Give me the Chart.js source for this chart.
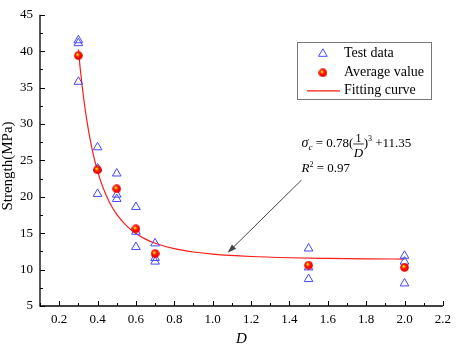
<!DOCTYPE html>
<html>
<head>
<meta charset="utf-8">
<script src="https://cdn.jsdelivr.net/npm/chart.js@4.4.1/dist/chart.umd.min.js"></script>
<style>
  html, body { margin: 0; padding: 0; background: #fff; }
</style>
</head>
<body>
<canvas id="chart" width="457" height="346"></canvas>
<script>
// test data (triangles)
const testX = [0.3, 0.3, 0.3, 0.4, 0.4, 0.4, 0.5, 0.5, 0.5, 0.6, 0.6, 0.6, 0.7, 0.7, 0.7, 1.5, 1.5, 1.5, 2.0, 2.0, 2.0];
const testY = [41.5, 41.1, 35.8, 26.8, 23.9, 20.4, 23.2, 20.3, 19.7, 18.6, 15.2, 13.1, 13.6, 11.6, 11.1, 12.9, 10.3, 8.7, 11.9, 11.1, 8.1];

// average values (red spheres)
const avgX = [0.3, 0.4, 0.5, 0.6, 0.7, 1.5, 2.0];
const avgY = [39.4, 23.7, 21.1, 15.6, 12.2, 10.6, 10.3];

// fitting curve, values
const fitX = [0.30, 0.31, 0.32, 0.33, 0.34, 0.35, 0.36, 0.38, 0.40, 0.42, 0.44, 0.46, 0.48, 0.50, 0.55, 0.60, 0.65, 0.70, 0.80, 0.90, 1.00, 1.20, 1.40, 1.60, 1.80, 2.00];
const fitY = [40.24, 37.53, 35.15, 33.05, 31.20, 29.54, 28.07, 25.56, 23.54, 21.88, 20.51, 19.36, 18.40, 17.59, 16.04, 14.96, 14.19, 13.62, 12.87, 12.42, 12.13, 11.80, 11.63, 11.54, 11.48, 11.45];

// labelled ticks
const xTickLabels = [0.2, 0.4, 0.6, 0.8, 1.0, 1.2, 1.4, 1.6, 1.8, 2.0, 2.2];
const yTickLabels = [5, 10, 15, 20, 25, 30, 35, 40, 45];

const serif = '"Liberation Serif", "Times New Roman", serif';

function isLabelled(v, list) {
    return list.some(l => Math.abs(l - v) < 1e-6);
}

// little shaded ball for the average markers
function makeBall(d) {
    const c = document.createElement('canvas');
    c.width = d; c.height = d;
    const g = c.getContext('2d');
    const r = d / 2;
    const grad = g.createRadialGradient(r - 1.2, r - 1.4, 0, r, r, r);
    grad.addColorStop(0, '#ffff50');
    grad.addColorStop(0.22, '#ffb000');
    grad.addColorStop(0.45, '#ff1800');
    grad.addColorStop(0.85, '#f00000');
    grad.addColorStop(1, '#c00000');
    g.fillStyle = grad;
    g.beginPath();
    g.arc(r, r, r - 0.2, 0, Math.PI * 2);
    g.fill();
    return c;
}
const ball = makeBall(9);

const axesPlugin = {
    id: 'axesPlugin',
    beforeDatasetsDraw(chart) {
        const { ctx, chartArea: a, scales: { x, y } } = chart;
        ctx.save();
        ctx.strokeStyle = '#000';
        ctx.lineWidth = 1.3;
        ctx.beginPath();
        ctx.moveTo(a.left, a.top);
        ctx.lineTo(a.left, a.bottom);
        ctx.lineTo(a.right, a.bottom);
        ctx.stroke();
        ctx.lineWidth = 1;
        ctx.beginPath();
        x.ticks.forEach(t => {
            const px = Math.round(x.getPixelForValue(t.value)) + 0.5;
            const len = isLabelled(t.value, xTickLabels) ? 5 : 3;
            ctx.moveTo(px, a.bottom);
            ctx.lineTo(px, a.bottom - len);
        });
        y.ticks.forEach(t => {
            const py = Math.round(y.getPixelForValue(t.value)) + 0.5;
            const len = isLabelled(t.value, yTickLabels) ? 5 : 3;
            ctx.moveTo(a.left, py);
            ctx.lineTo(a.left + len, py);
        });
        ctx.stroke();

        // axis titles
        ctx.fillStyle = '#000';
        ctx.font = 'italic 15px ' + serif;
        ctx.textAlign = 'center';
        ctx.textBaseline = 'middle';
        ctx.fillText('D', (a.left + a.right) / 2, 339);
        ctx.translate(8, 166);
        ctx.rotate(-Math.PI / 2);
        ctx.font = '15px ' + serif;
        ctx.fillText('Strength(MPa)', 0, 0);
        ctx.restore();
    },
    afterDatasetsDraw(chart) {
        const { ctx, chartArea: a, scales: { x, y } } = chart;
        ctx.save();

        // arrow pointing at the curve
        const x0 = x.getPixelForValue(1.463), y0 = y.getPixelForValue(22.3);
        const x1 = x.getPixelForValue(1.078), y1 = y.getPixelForValue(12.3);
        const ang = Math.atan2(y1 - y0, x1 - x0);
        ctx.strokeStyle = '#444';
        ctx.fillStyle = '#444';
        ctx.lineWidth = 1;
        ctx.beginPath();
        ctx.moveTo(x0, y0);
        ctx.lineTo(x1 - Math.cos(ang) * 6, y1 - Math.sin(ang) * 6);
        ctx.stroke();
        ctx.beginPath();
        ctx.moveTo(x1, y1);
        ctx.lineTo(x1 - Math.cos(ang) * 9 + Math.sin(ang) * 3, y1 - Math.sin(ang) * 9 - Math.cos(ang) * 3);
        ctx.lineTo(x1 - Math.cos(ang) * 9 - Math.sin(ang) * 3, y1 - Math.sin(ang) * 9 + Math.cos(ang) * 3);
        ctx.closePath();
        ctx.fill();

        // equation text
        ctx.fillStyle = '#000';
        ctx.textBaseline = 'alphabetic';
        ctx.textAlign = 'left';
        let cx = x.getPixelForValue(1.463);
        let yb = y.getPixelForValue(26.83);
        const put = (txt, font, dy) => {
            ctx.font = font;
            ctx.fillText(txt, cx, yb + (dy || 0));
            cx += ctx.measureText(txt).width;
        };
        put('\u03C3', 'italic 14px ' + serif);
        put('c', 'italic 9px ' + serif, 3);
        put(' = 0.78(', '13px ' + serif);
        ctx.font = 'italic 13px ' + serif;
        const wD = ctx.measureText('D').width + 1;
        ctx.textAlign = 'center';
        ctx.font = '12px ' + serif;
        ctx.fillText('1', cx + wD / 2, yb - 5);
        ctx.fillRect(cx, yb - 3.5, wD, 0.8);
        ctx.font = 'italic 13px ' + serif;
        ctx.fillText('D', cx + wD / 2, yb + 9.5);
        ctx.textAlign = 'left';
        cx += wD;
        put(')', '13px ' + serif);
        put('3', '8px ' + serif, -6);
        put(' +11.35', '13px ' + serif);

        cx = x.getPixelForValue(1.463);
        yb = y.getPixelForValue(23.35);
        put('R', 'italic 13px ' + serif);
        put('2', '8px ' + serif, -5);
        put(' = 0.97', '13px ' + serif);

        // legend box
        const lx = a.right - 146, ly = a.top + 27;
        ctx.strokeStyle = '#777';
        ctx.lineWidth = 1;
        ctx.strokeRect(Math.round(lx) + 0.5, Math.round(ly) + 0.5, 134, 57);
        const symX = lx + 26, textX = lx + 47;
        const rows = [ly + 12, ly + 31, ly + 49];
        ctx.strokeStyle = 'rgb(70,70,255)';
        ctx.beginPath();
        ctx.moveTo(symX, rows[0] - 5);
        ctx.lineTo(symX + 4.3, rows[0] + 2.5);
        ctx.lineTo(symX - 4.3, rows[0] + 2.5);
        ctx.closePath();
        ctx.stroke();
        ctx.drawImage(ball, symX - 4.5, rows[1] - 4.5);
        ctx.strokeStyle = '#ff1a1a';
        ctx.lineWidth = 1.2;
        ctx.beginPath();
        ctx.moveTo(lx + 10, rows[2]);
        ctx.lineTo(lx + 43, rows[2]);
        ctx.stroke();
        ctx.fillStyle = '#000';
        ctx.font = '14px ' + serif;
        ctx.textBaseline = 'middle';
        ctx.fillText('Test data', textX, rows[0]);
        ctx.fillText('Average value', textX, rows[1]);
        ctx.fillText('Fitting curve', textX, rows[2]);
        ctx.restore();
    }
};

new Chart(document.getElementById('chart'), {
    type: 'scatter',
    data: {
        datasets: [
            {
                label: 'Average value',
                data: avgX.map((v, i) => ({ x: v, y: avgY[i] })),
                pointStyle: ball,
                order: 0
            },
            {
                label: 'Test data',
                data: testX.map((v, i) => ({ x: v, y: testY[i] })),
                pointStyle: 'triangle',
                pointRadius: 5,
                borderColor: 'rgb(70,70,255)',
                backgroundColor: 'rgba(0,0,0,0)',
                borderWidth: 1,
                order: 1
            },
            {
                label: 'Fitting curve',
                type: 'line',
                data: fitX.map((v, i) => ({ x: v, y: fitY[i] })),
                borderColor: '#ff1a1a',
                borderWidth: 1.2,
                pointRadius: 0,
                cubicInterpolationMode: 'monotone',
                fill: false,
                order: 2
            }
        ]
    },
    options: {
        responsive: false,
        animation: false,
        events: [],
        clip: false,
        layout: { padding: { top: 5, right: 7, left: 0, bottom: 0 } },
        plugins: { legend: { display: false }, tooltip: { enabled: false } },
        scales: {
            x: {
                type: 'linear',
                min: 0.1,
                max: 2.2,
                grid: { display: false, drawTicks: false },
                border: { display: false },
                ticks: {
                    stepSize: 0.1,
                    autoSkip: false,
                    maxRotation: 0,
                    padding: 6,
                    color: '#000',
                    font: { family: serif, size: 13 },
                    callback: v => isLabelled(v, xTickLabels) ? v.toFixed(1) : ''
                },
                afterFit: s => { s.height = 40; }
            },
            y: {
                type: 'linear',
                min: 5,
                max: 45,
                grid: { display: false, drawTicks: false },
                border: { display: false },
                ticks: {
                    stepSize: 2.5,
                    autoSkip: false,
                    padding: 7,
                    color: '#000',
                    font: { family: serif, size: 13 },
                    callback: v => isLabelled(v, yTickLabels) ? String(v) : ''
                },
                afterFit: s => { s.width = 40; }
            }
        }
    },
    plugins: [axesPlugin]
});
</script>
</body>
</html>
